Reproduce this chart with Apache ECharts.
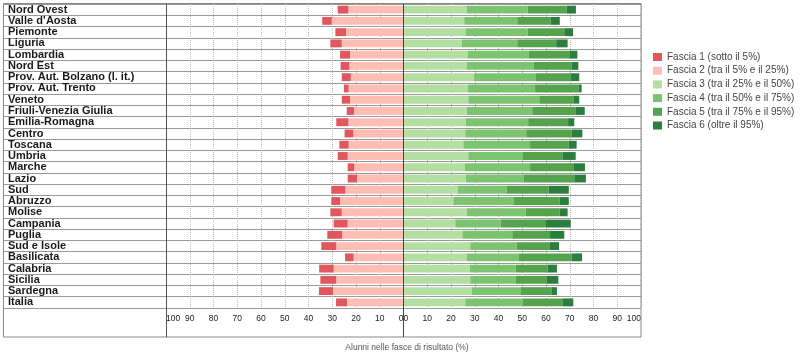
<!DOCTYPE html>
<html>
<head>
<meta charset="utf-8">
<script src="https://cdn.jsdelivr.net/npm/echarts@6/dist/echarts.min.js"></script>
<style>
html,body{margin:0;padding:0;background:#fff;}
#main{width:800px;height:357px;}
</style>
</head>
<body>
<div id="main"></div>
<script>
var categories = ["Nord Ovest","Valle d\u2019Aosta","Piemonte","Liguria","Lombardia","Nord Est","Prov. Aut. Bolzano (l. it.)","Prov. Aut. Trento","Veneto","Friuli-Venezia Giulia","Emilia-Romagna","Centro","Toscana","Umbria","Marche","Lazio","Sud","Abruzzo","Molise","Campania","Puglia","Sud e Isole","Basilicata","Calabria","Sicilia","Sardegna","Italia"];
var seriesNames = ["Fascia 1 (sotto il 5%)","Fascia 2 (tra il 5% e il 25%)","Fascia 3 (tra il 25% e il 50%)","Fascia 4 (tra il 50% e il 75%)","Fascia 5 (tra il 75% e il 95%)","Fascia 6 (oltre il 95%)"];
var fascia1 = [4.5,4.0,4.5,4.8,4.2,3.7,3.8,2.0,3.5,3.1,5.1,3.7,3.9,4.2,2.8,3.9,5.9,3.7,4.8,5.9,6.3,6.3,3.6,6.1,6.7,5.9,4.6];
var fascia2 = [23.2,30.2,24.2,26.0,22.5,22.8,22.2,23.1,22.5,20.8,23.2,21.1,23.1,23.5,20.7,19.6,24.5,26.7,26.0,23.5,25.8,28.3,21.0,29.4,28.3,29.7,23.8];
var fascia3 = [26.6,25.6,26.3,24.6,27.0,26.6,29.7,27.0,27.3,26.6,26.2,26.0,25.2,27.3,25.9,26.2,22.8,21.0,26.6,21.8,24.8,28.1,26.6,28.0,28.1,28.7,26.0];
var fascia4 = [25.7,22.3,26.0,23.3,25.7,28.3,26.1,28.4,29.9,27.6,26.3,25.7,28.1,22.9,27.4,24.5,20.6,25.5,24.8,19.1,21.0,19.6,22.0,19.2,19.1,20.5,24.2];
var fascia5 = [16.4,14.1,15.4,16.4,17.1,15.8,14.6,18.4,14.3,18.4,16.8,19.1,16.3,16.7,18.2,21.2,17.7,19.3,14.4,18.8,15.9,13.7,22.2,13.5,13.2,13.3,16.7];
var fascia6 = [3.9,3.8,3.7,4.8,3.4,2.9,3.6,1.2,2.5,3.7,2.6,4.5,3.3,5.6,4.9,4.9,8.5,3.8,3.3,10.7,6.0,4.1,4.4,3.9,4.8,2.1,4.6];
var colors = ["#e0575e","#ffbdb3","#b4dfa3","#7cc46f","#56a34e","#2b7e3e"];
var xTicks = [0,10,20,30,40,50,60,70,80,90,100];

var chart = echarts.init(document.getElementById('main'), null, {renderer:'canvas'});
var TOP = 4, ROWS_H = 304, LBL_L = 3, DIV_X = 166, MID_X = 403.5, RIGHT_X = 641;
var rowLine = {show:true, interval:0, lineStyle:{color:'#9a9a9a', width:1.2}};
var tickLabel = {fontSize:8.5, color:'#222', fontFamily:'Liberation Sans', margin:6, showMinLabel:true, showMaxLabel:true};

function yCat(grid, labels){
  return {
    type:'category', gridIndex:grid, data:categories, inverse:true,
    axisLine:{show:false}, axisTick:{show:false},
    splitLine:rowLine,
    axisLabel: labels ? {show:true, inside:true, margin:5, fontSize:11, fontWeight:'bold', color:'#1a1a1a', fontFamily:'Liberation Sans', interval:0, padding:[2,0,0,0]} : {show:false}
  };
}

var option = {
  animation:false,
  color:colors,
  grid:[
    {left:LBL_L, width:DIV_X-LBL_L, top:TOP, height:ROWS_H},
    {left:DIV_X, width:MID_X-DIV_X, top:TOP, height:ROWS_H},
    {left:MID_X, width:RIGHT_X-MID_X, top:TOP, height:ROWS_H}
  ],
  legend:{
    orient:'vertical', left:653, top:52, padding:0,
    icon:'rect', itemWidth:9, itemHeight:8, itemGap:3.7,
    data:seriesNames,
    textStyle:{fontSize:10, color:'#444', fontFamily:'Liberation Sans', lineHeight:10}
  },
  xAxis:[
    {type:'value', gridIndex:0, min:0, max:1, show:false},
    {type:'value', gridIndex:1, min:0, max:100, interval:10, inverse:true,
     axisLine:{show:false}, axisTick:{show:false},
     splitLine:{show:true, lineStyle:{type:'dotted', color:'#bbb'}},
     axisLabel:Object.assign({}, tickLabel, {alignMinLabel:'right', alignMaxLabel:'left'})},
    {type:'value', gridIndex:2, min:0, max:100, interval:10,
     axisLine:{show:false}, axisTick:{show:false},
     splitLine:{show:true, lineStyle:{type:'dotted', color:'#bbb'}},
     axisLabel:Object.assign({}, tickLabel, {alignMinLabel:'left', alignMaxLabel:'right'})}
  ],
  yAxis:[yCat(0,true), yCat(1,false), yCat(2,false)],
  series:[
    {name:seriesNames[1], type:'bar', xAxisIndex:1, yAxisIndex:1, stack:'L', data:fascia2, barWidth:'70%', itemStyle:{color:colors[1]}},
    {name:seriesNames[0], type:'bar', xAxisIndex:1, yAxisIndex:1, stack:'L', data:fascia1, barWidth:'70%', itemStyle:{color:colors[0]}},
    {name:seriesNames[2], type:'bar', xAxisIndex:2, yAxisIndex:2, stack:'R', data:fascia3, barWidth:'70%', itemStyle:{color:colors[2]}},
    {name:seriesNames[3], type:'bar', xAxisIndex:2, yAxisIndex:2, stack:'R', data:fascia4, barWidth:'70%', itemStyle:{color:colors[3]}},
    {name:seriesNames[4], type:'bar', xAxisIndex:2, yAxisIndex:2, stack:'R', data:fascia5, barWidth:'70%', itemStyle:{color:colors[4]}},
    {name:seriesNames[5], type:'bar', xAxisIndex:2, yAxisIndex:2, stack:'R', data:fascia6, barWidth:'70%', itemStyle:{color:colors[5]}}
  ],
  graphic:[
    {type:'rect', shape:{x:3.5, y:3.5, width:RIGHT_X-3.5, height:333.5}, style:{fill:null, stroke:'#888', lineWidth:1}, z:100, silent:true},
    {type:'line', shape:{x1:DIV_X+0.5, y1:4, x2:DIV_X+0.5, y2:337}, style:{stroke:'#555', lineWidth:1}, z:100, silent:true},
    {type:'line', shape:{x1:MID_X, y1:4, x2:MID_X, y2:337}, style:{stroke:'#444', lineWidth:1}, z:100, silent:true},
    {type:'text', x:407, y:348, style:{text:'Alunni nelle fasce di risultato (%)', fontSize:8.5, fill:'#555', fontFamily:'Liberation Sans', align:'center', verticalAlign:'middle'}, silent:true}
  ]
};
chart.setOption(option);
</script>
</body>
</html>
